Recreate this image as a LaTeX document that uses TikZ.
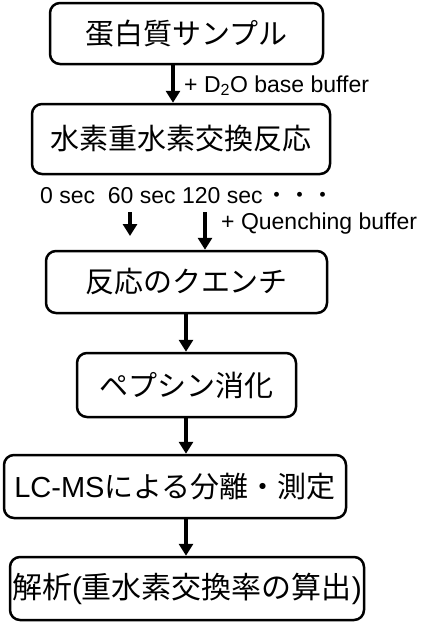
\documentclass[tikz,border=0pt]{standalone}
\usepackage{fontspec}
\setmainfont{Liberation Sans}
\newfontfamily\jp{Noto Sans CJK JP}
\usetikzlibrary{arrows.meta}
\tikzset{
    stepnode/.style={
        draw,                  % 边框
        line width=2.5pt,      % 边框粗细
        rounded corners=10pt,  % 圆角
        inner sep=0pt,
        font=\jp\fontsize{29}{32}\selectfont
    },
    myarrow/.style={
        line width=4pt,        % 箭杆粗细
        -{Triangle[width=14pt,length=12pt]}
    },
    mylabel/.style={
        anchor=base west,
        inner sep=0pt,
        font=\fontsize{23}{27}\selectfont
    }
}
\begin{document}
\begin{tikzpicture}[x=1pt, y=-1pt]
\useasboundingbox (0,0) rectangle (423,625);

\def\colx{186}
% 定义点
\coordinate (C1) at (173,0);
\coordinate (C2) at (\colx,0);
\coordinate (T1s) at (130,212);
\coordinate (T1e) at (130,236);
\coordinate (T2s) at (205,212);

\node[stepnode, minimum width=273pt, minimum height=61pt] (sample) at (186.5,33.5) {蛋白質サンプル};
\node[stepnode, minimum width=298pt, minimum height=70pt] (hdx) at (181,139) {水素重水素交換反応};
\node[stepnode, minimum width=281pt, minimum height=62pt] (quench) at (186.5,282) {反応のクエンチ};
\node[stepnode, minimum width=219pt, minimum height=64pt] (pepsin) at (186.5,385) {ペプシン消化};
\node[stepnode, minimum width=342pt, minimum height=63pt] (lcms) at (175,486.5) {{\rmfamily LC-MS}による分離・測定};
\node[stepnode, minimum width=354pt, minimum height=63pt, font=\jp\fontsize{30}{34}\selectfont] (anal) at (187,588.5) {解析{\rmfamily (}重水素交換率の算出{\rmfamily )}};

\node[mylabel] (d2o) at (184,92) {+ D\textsubscript{2}O base buffer};
\node[mylabel] (times) at (40,203) {0 sec\ \ 60 sec 120 sec\hspace{3pt}{\jp ・・・}};
\node[mylabel] (qbuf) at (221,229) {+ Quenching buffer};

\draw[myarrow] (sample.south -| C1) -- (hdx.north -| C1);
\draw[myarrow] (T1s) -- (T1e);
\draw[myarrow] (T2s) -- (quench.north -| T2s);
\draw[myarrow] (quench.south -| C2) -- (pepsin.north -| C2);
\draw[myarrow] (pepsin.south -| C2) -- (lcms.north -| C2);
\draw[myarrow] (lcms.south -| C2) -- (anal.north -| C2);

\end{tikzpicture}
\end{document}
